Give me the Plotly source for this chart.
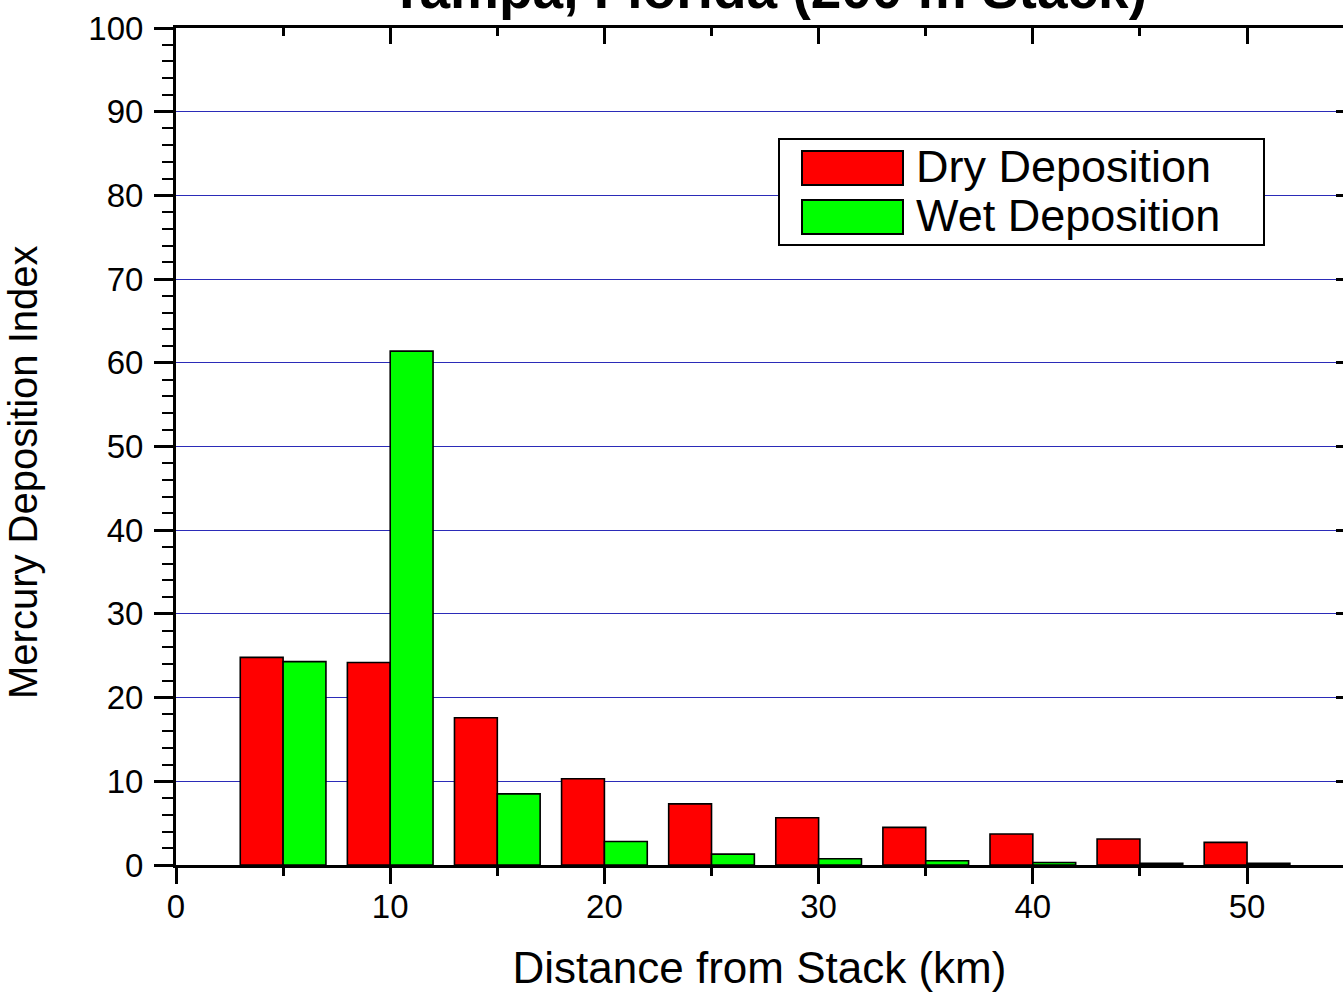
import plotly.graph_objects as go

# ---------------- data ----------------
distance_km = [5, 10, 15, 20, 25, 30, 35, 40, 45, 50]
dry_deposition = [24.8, 24.2, 17.6, 10.3, 7.3, 5.65, 4.5, 3.7, 3.1, 2.7]
wet_deposition = [24.3, 61.4, 8.5, 2.8, 1.3, 0.75, 0.5, 0.3, 0.2, 0.2]
x_tick_values = [0, 10, 20, 30, 40, 50]
x_minor_values = [5, 15, 25, 35, 45]
y_tick_values = [0, 10, 20, 30, 40, 50, 60, 70, 80, 90, 100]
series_names = ["Dry Deposition", "Wet Deposition"]
series_colors = ["#FF0000", "#00FF00"]
title_text = "Tampa, Florida (200 m Stack)"
x_title_text = "Distance from Stack (km)"
y_title_text = "Mercury Deposition Index"

# ---------------- layout geometry ----------------
W, H = 1343, 992
ML, MR, MT, MB = 176, 0, 28, 127
PW, PH = W - ML - MR, H - MT - MB
X_RANGE = [0, 54.48]
Y_RANGE = [0, 100]
BAR_W = 2
FONT = "Liberation Sans, Arial, sans-serif"


def px_x(px):
    return (px - ML) / PW


def px_y(py):
    return (H - MB - py) / PH


fig = go.Figure()
# dry bars on the bottom/left axes, wet bars on the top/right (matching) axes
fig.add_trace(go.Bar(
    x=distance_km, y=dry_deposition, name=series_names[0],
    width=BAR_W, offset=-BAR_W,
    marker=dict(color=series_colors[0], line=dict(color="black", width=1.6)),
    showlegend=False, xaxis="x", yaxis="y",
))
fig.add_trace(go.Bar(
    x=distance_km, y=wet_deposition, name=series_names[1],
    width=BAR_W, offset=0,
    marker=dict(color=series_colors[1], line=dict(color="black", width=1.6)),
    showlegend=False, xaxis="x2", yaxis="y2",
))

axis_common = dict(tickcolor="black", linecolor="black")

fig.update_layout(
    width=W, height=H,
    margin=dict(l=ML, r=MR, t=MT, b=MB, pad=0),
    paper_bgcolor="white", plot_bgcolor="white",
    font=dict(family=FONT, color="black"),
    xaxis=dict(
        range=X_RANGE, tickmode="array", tickvals=x_tick_values,
        ticks="outside", ticklen=16, tickwidth=2.5,
        showline=True, linewidth=3, showgrid=False, zeroline=False,
        tickfont=dict(size=33, family=FONT), ticklabelstandoff=-6,
        minor=dict(tickmode="array", tickvals=x_minor_values, ticks="outside",
                   ticklen=8, tickwidth=2.5, tickcolor="black"),
        title=dict(text=x_title_text, font=dict(size=44, family=FONT), standoff=29),
        **axis_common,
    ),
    xaxis2=dict(
        range=X_RANGE, overlaying="x", side="top", anchor="y2", matches="x",
        tickmode="array", tickvals=x_tick_values,
        ticks="inside", ticklen=16, tickwidth=2.5, showticklabels=False,
        showline=True, linewidth=3, showgrid=False, zeroline=False,
        minor=dict(tickmode="array", tickvals=x_minor_values, ticks="inside",
                   ticklen=8, tickwidth=2.5, tickcolor="black"),
        **axis_common,
    ),
    yaxis=dict(
        range=Y_RANGE, tickmode="array", tickvals=y_tick_values,
        ticks="outside", ticklen=19, tickwidth=2.5,
        showline=True, linewidth=3, zeroline=False,
        showgrid=True, gridcolor="#2B2BB8", gridwidth=1.2,
        tickfont=dict(size=33, family=FONT), ticklabelstandoff=4,
        minor=dict(dtick=2, ticks="outside", ticklen=11, tickwidth=2,
                   tickcolor="black", showgrid=False),
        **axis_common,
    ),
    yaxis2=dict(
        range=Y_RANGE, overlaying="y", side="right", anchor="x2", matches="y",
        tickmode="array", tickvals=y_tick_values,
        ticks="inside", ticklen=7, tickwidth=2.5, showticklabels=False,
        showline=False, showgrid=False, zeroline=False,
        **axis_common,
    ),
)

# title (partly cut off at the top, as in the reference)
fig.add_annotation(
    text=f"<b>{title_text}</b>", xref="paper", yref="paper",
    x=px_x(768), y=px_y(22), xanchor="center", yanchor="bottom",
    showarrow=False, font=dict(size=55, family=FONT, color="black"),
)

# y axis title
fig.add_annotation(
    text=y_title_text, xref="paper", yref="paper",
    x=px_x(23), y=px_y(472), xanchor="center", yanchor="middle",
    textangle=-90, showarrow=False, font=dict(size=40, family=FONT, color="black"),
)

# legend box
shapes = [dict(type="rect", xref="paper", yref="paper",
               x0=px_x(779), x1=px_x(1264), y0=px_y(245), y1=px_y(139),
               line=dict(color="black", width=2), fillcolor="white", layer="above")]
legend_rows = [(151, 185), (200, 234)]
for (top, bot), name, col in zip(legend_rows, series_names, series_colors):
    shapes.append(dict(type="rect", xref="paper", yref="paper",
                       x0=px_x(802), x1=px_x(903), y0=px_y(bot), y1=px_y(top),
                       line=dict(color="black", width=2), fillcolor=col, layer="above"))
    fig.add_annotation(
        text=name, xref="paper", yref="paper",
        x=px_x(914), y=px_y((top + bot) / 2 - 2), xanchor="left", yanchor="middle",
        showarrow=False, font=dict(size=45, family=FONT, color="black"),
    )
fig.update_layout(shapes=shapes)

fig.write_html(
    "out.html",
    config={"displayModeBar": False},
    post_script="document.body.style.margin='0';document.body.style.overflow='hidden';",
)
